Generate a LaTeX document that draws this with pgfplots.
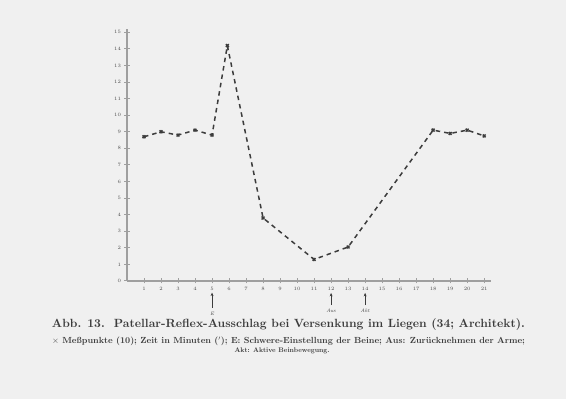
\documentclass[border=0pt]{standalone}
\usepackage{pgfplots}
\pgfplotsset{compat=1.18}
\usepackage{graphicx}
\usetikzlibrary{arrows.meta}
\definecolor{bg}{RGB}{240,240,240}
\definecolor{ink}{RGB}{60,60,60}
\begin{document}
\begin{tikzpicture}[x=1pt,y=1pt]
\fill[bg] (0,0) rectangle (566,399);
\begin{axis}[
  at={(127pt,118pt)}, anchor=south west,
  scale only axis, width=364pt, height=252pt,
  xmin=0, xmax=21.4, ymin=0, ymax=15.2,
  axis x line*=bottom, axis y line*=left,
  axis line style={gray!75, line width=2pt},
  xtick={1,...,21}, ytick={0,...,15},
  tick style={gray!75, line width=1pt},
  major tick length=5pt, tick align=center,
  tick label style={font=\tiny, text=gray!60!black},
  clip=false,
]
\addplot[ink, line width=1.5pt, dash pattern=on 4.5pt off 4pt,
  mark=x, mark size=2pt, mark options={solid}]
  coordinates {(1,8.7)(2,9.0)(3,8.8)(4,9.1)(5,8.8)(5.9,14.2)(8,3.8)(11,1.3)(13,2.05)(18,9.1)(19,8.9)(20,9.1)(21,8.75)};
\draw[ink, line width=0.8pt, -{Stealth[length=3.5pt,width=3pt]}] (axis cs:5,-1.6) -- (axis cs:5,-0.7);
\draw[ink, line width=0.8pt, -{Stealth[length=3.5pt,width=3pt]}] (axis cs:12,-1.45) -- (axis cs:12,-0.72);
\draw[ink, line width=0.8pt, -{Stealth[length=3.5pt,width=3pt]}] (axis cs:14,-1.45) -- (axis cs:14,-0.72);
\node[font=\tiny\itshape, text=ink] at (axis cs:5,-1.95) {E};
\node[font=\tiny\itshape, text=ink] at (axis cs:12,-1.8) {Aus};
\node[font=\tiny\itshape, text=ink] at (axis cs:14,-1.8) {Akt};
\end{axis}
\node[text=ink] at (288.5,74) {\resizebox{473pt}{!}{\bfseries Abb. 13.\ \ Patellar-Reflex-Ausschlag bei Versenkung im Liegen (34; Architekt).}};
\node[text=ink] at (288.5,58) {\resizebox{473pt}{!}{\bfseries $\times$ Meßpunkte (10); Zeit in Minuten ($'$); E: Schwere-Einstellung der Beine; Aus: Zurücknehmen der Arme;}};
\node[text=ink] at (282,48) {\resizebox{95pt}{!}{\bfseries Akt: Aktive Beinbewegung.}};
\end{tikzpicture}
\end{document}
